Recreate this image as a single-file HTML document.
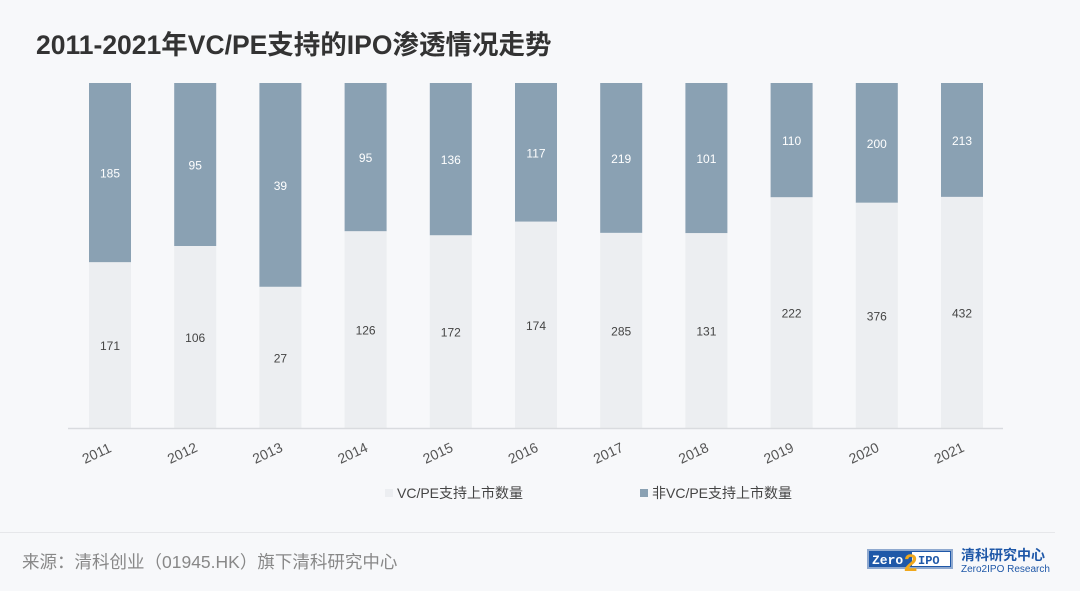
<!DOCTYPE html>
<html><head><meta charset="utf-8"><style>
body{margin:0;width:1080px;height:591px;background:#f7f8fa;font-family:"Liberation Sans","Noto Sans CJK SC",sans-serif;overflow:hidden;position:relative}
.t{position:absolute;left:36px;top:23px;font-size:26.5px;font-weight:bold;color:#333;letter-spacing:0px}
</style></head><body>
<div class="t">2011-2021年VC/PE支持的IPO渗透情况走势</div>
<svg width="1080" height="591" style="position:absolute;left:0;top:0" font-family="Liberation Sans, Noto Sans CJK SC, sans-serif">
<g id="bars"></g>
<line x1="68" y1="428.5" x2="1003" y2="428.5" stroke="#d9dbdf" stroke-width="1.5"/>
<rect x="385" y="489" width="8" height="8" fill="#eceef1"/>
<text x="397" y="498" font-size="14" fill="#444">VC/PE支持上市数量</text>
<rect x="640" y="489" width="8" height="8" fill="#8aa1b3"/>
<text x="652" y="498" font-size="14" fill="#444">非VC/PE支持上市数量</text>
<line x1="0" y1="532.5" x2="1055" y2="532.5" stroke="#e6e7ea"/>
<text x="22" y="568" font-size="17.5" fill="#888">来源：清科创业（01945.HK）旗下清科研究中心</text>
<rect x="868" y="550" width="84" height="18" fill="#1f58a8" stroke="#8fa9cf" stroke-width="2"/>
<rect x="912" y="552" width="38" height="14" fill="#fff"/>
<text x="872" y="564" font-size="13" font-weight="bold" fill="#fff" font-family="Liberation Mono,monospace">Zero</text>
<text x="918" y="564" font-size="12" font-weight="bold" fill="#1f58a8" font-family="Liberation Mono,monospace">IPO</text>
<text x="904" y="571" font-size="24" font-weight="bold" fill="#f0a81c">2</text>
<text x="961" y="560" font-size="14" font-weight="bold" fill="#1f58a8">清科研究中心</text>
<text x="961" y="572" font-size="10" fill="#1f58a8">Zero2IPO Research</text>
</svg>
<script>
var d=[[2011,171,185],[2012,106,95],[2013,27,39],[2014,126,95],[2015,172,136],[2016,174,117],[2017,285,219],[2018,131,101],[2019,222,110],[2020,376,200],[2021,432,213]];
var g=document.getElementById('bars'),s='';
d.forEach(function(r,i){var cx=110+i*85.2,top=83,bot=428,H=bot-top,lh=H*r[1]/(r[1]+r[2]),ly=bot-lh;
s+='<rect x="'+(cx-21)+'" y="'+top+'" width="42" height="'+(ly-top)+'" fill="#8aa1b3"/>';
s+='<rect x="'+(cx-21)+'" y="'+ly+'" width="42" height="'+lh+'" fill="#eceef1"/>';
s+='<text x="'+cx+'" y="'+((top+ly)/2+5)+'" font-size="12" fill="#fff" text-anchor="middle">'+r[2]+'</text>';
s+='<text x="'+cx+'" y="'+((ly+bot)/2+5)+'" font-size="12" fill="#444" text-anchor="middle">'+r[1]+'</text>';
s+='<text transform="translate('+(cx-25)+',464) rotate(-25)" font-size="14" fill="#555">'+r[0]+'</text>';});
g.innerHTML=s;
</script>
</body></html>
